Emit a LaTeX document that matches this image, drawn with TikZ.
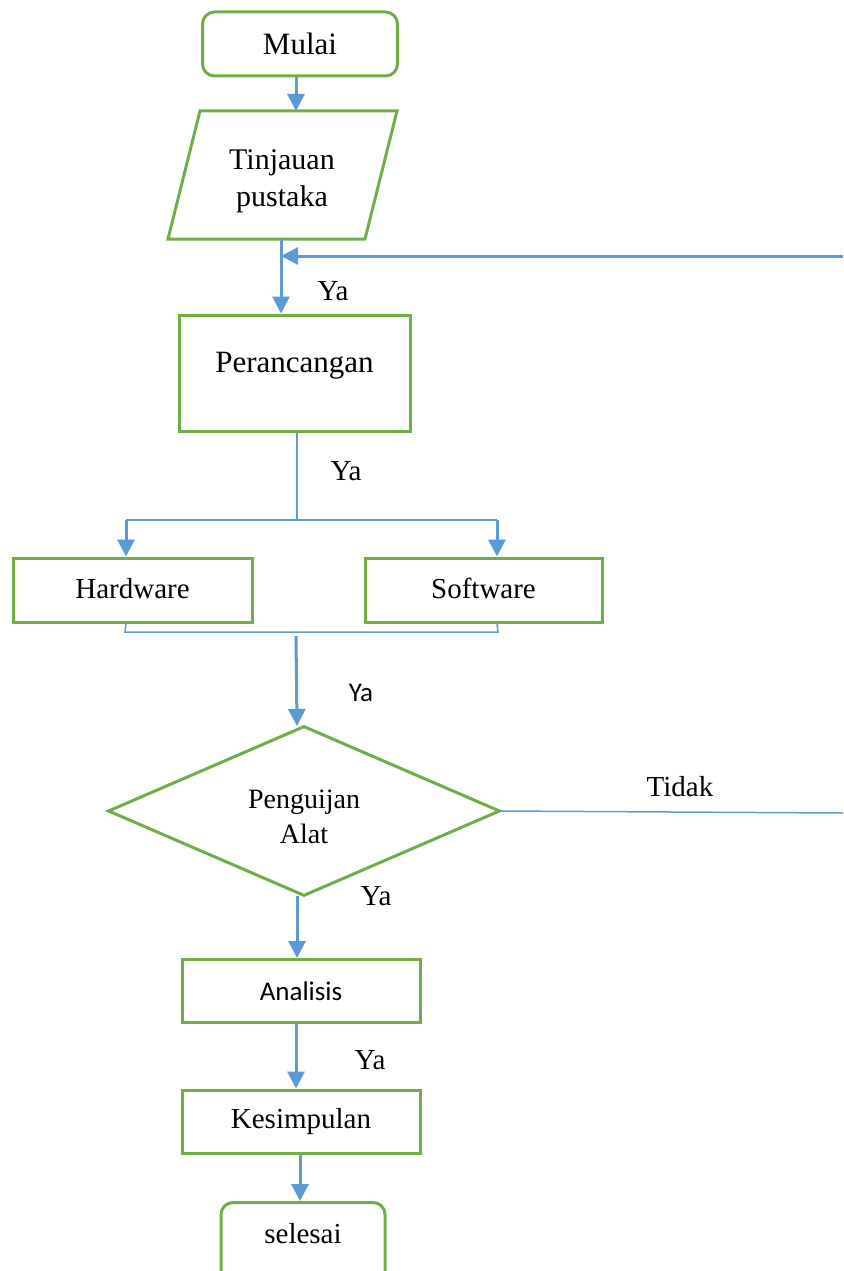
\documentclass[tikz,border=0pt]{standalone}
\usepackage{fontspec}
\setmainfont{Liberation Serif}
\newfontfamily\calfont{Carlito}
\usetikzlibrary{arrows.meta,shapes.geometric}
\definecolor{gr}{HTML}{70AD47}
\definecolor{bl}{HTML}{5B9BD5}
\tikzset{
  box/.style={draw=gr,line width=3pt,rectangle,font=\fontsize{29}{34}\selectfont,inner sep=0pt},
  term/.style={box,rounded corners=12pt},
  dec/.style={draw=gr,line width=3pt,diamond,font=\fontsize{28}{36}\selectfont,align=center,inner sep=0pt},
  flow/.style={draw=bl,line width=3pt,-{Triangle[width=17pt,length=17pt]}},
  thin/.style={draw=bl,line width=1.5pt},
  lab/.style={font=\fontsize{29}{34}\selectfont,inner sep=0pt},
  labc/.style={font=\calfont\fontsize{27}{32}\selectfont,inner sep=0pt}
}
\begin{document}
\begin{tikzpicture}[x=1pt,y=-1pt]
\useasboundingbox (0,0) rectangle (843,1271);
\clip (0,0) rectangle (843,1271);
% Start
\node[term,minimum width=195pt,minimum height=64pt,font=\fontsize{31}{36}\selectfont] (mulai) at (300,44) {Mulai};
% Parallelogram
\coordinate (p1) at (200,111);
\coordinate (p2) at (397,111);
\coordinate (p3) at (365,239);
\coordinate (p4) at (168,239);
\draw[draw=gr,line width=3pt] (p1) -- (p2) -- (p3) -- (p4) -- cycle;
\node[align=center,font=\fontsize{30}{37}\selectfont,inner sep=0pt] (tinj) at (282,181) {Tinjauan\\pustaka};
\coordinate (tt) at (296,111);
\coordinate (tb) at (281,239);
\draw[flow] (mulai.south -| tt) -- (tt);
% Perancangan
\node[box,minimum width=231pt,minimum height=116pt,font=\fontsize{31}{36}\selectfont] (per) at (294.5,373) {\raisebox{21pt}{Perancangan}};
\draw[flow] (tb) -- (tb |- per.north);
\coordinate (fbr) at (843,256);
\draw[flow] (fbr) -- (tb |- fbr);
\node[lab] (ya1) at (333,291) {Ya};
% Split
\coordinate (sp) at (297,520);
\node[box,minimum width=239pt,minimum height=64pt] (hw) at (132.5,590) {\raisebox{4pt}{Hardware}};
\node[box,minimum width=237pt,minimum height=64pt] (sw) at (483.5,590) {\raisebox{4pt}{Software}};
\coordinate (hwa) at (126,520);
\coordinate (swa) at (497,520);
\draw[thin] (per.south -| sp) -- (sp);
\draw[thin] (hwa) -- (swa);
\draw[flow] (hwa) -- (hwa |- hw.north);
\draw[flow] (swa) -- (swa |- sw.north);
\node[lab] (ya2) at (346,471) {Ya};
% Merge
\coordinate (mg) at (296,636);
\draw[thin] (hwa |- hw.south) -- (125,632) -- (498,632) -- (swa |- sw.south);
% Decision
\node[dec,minimum width=392pt,minimum height=170pt] (peng) at (304,811) {};
\node[align=center,font=\fontsize{28}{35}\selectfont,inner sep=0pt] (pengt) at (304,817) {Penguijan\\Alat};
\coordinate (dtop) at (297,726);
\coordinate (dbot) at (297,896);
\coordinate (dright) at (500,811);
\draw[flow] (mg) -- (dtop);
\node[labc] (ya3) at (361,693) {Ya};
\coordinate (tdr) at (843,813);
\draw[thin] (dright) -- (tdr);
\node[lab] (tidak) at (680,787) {Tidak};
% Analisis
\node[box,minimum width=238pt,minimum height=63pt,font=\calfont\fontsize{27}{32}\selectfont] (ana) at (301,991) {Analisis};
\draw[flow] (dbot) -- (dbot |- ana.north);
\node[lab] (ya4) at (376,896) {Ya};
% Kesimpulan
\node[box,minimum width=238pt,minimum height=63pt] (kes) at (301,1121.5) {\raisebox{2pt}{Kesimpulan}};
\coordinate (ak) at (296,1023);
\draw[flow] (ak |- ana.south) -- (ak |- kes.north);
\node[lab] (ya5) at (370,1060) {Ya};
% Selesai
\node[term,minimum width=164pt,minimum height=100pt,anchor=north,font=\fontsize{29}{34}\selectfont] (sel) at (303,1201) {\raisebox{38pt}{selesai}};
\coordinate (ks) at (300,1153);
\draw[flow] (ks |- kes.south) -- (ks |- sel.north);
\end{tikzpicture}
\end{document}
